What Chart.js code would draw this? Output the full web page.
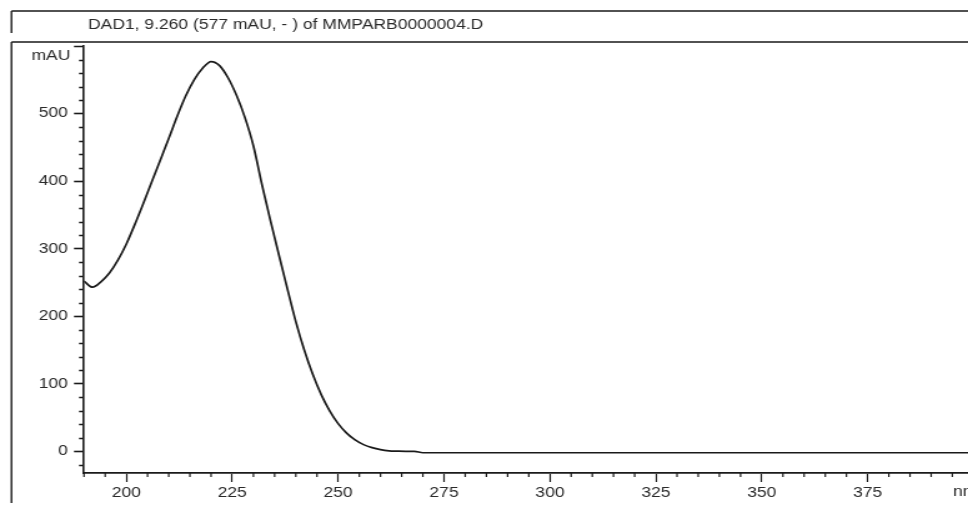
<!DOCTYPE html>
<html>
<head>
<meta charset="utf-8">
<title>DAD1 spectrum</title>
<script src="https://cdn.jsdelivr.net/npm/chart.js@4.4.1/dist/chart.umd.min.js"></script>
<style>
  html, body { margin: 0; padding: 0; background: #fff; overflow: hidden; }
  /* the instrument printout is wider than it is tall, so the canvas is stretched sideways */
  #wrap { width: 775px; height: 508px; transform: scaleX(1.24903); transform-origin: 0 0; }
  canvas { display: block; }
</style>
</head>
<body>
<div id="wrap"><canvas id="spectrum" width="775" height="508"></canvas></div>
<script>
// UV spectrum at 9.260 min
const wavelength = [190, 192, 194, 196, 198, 200, 202, 204, 206, 208,
                    210, 212, 214, 216, 218, 220, 222, 224, 226, 228,
                    230, 232, 234, 236, 238, 240, 242, 244, 246, 248,
                    250, 252, 254, 256, 258, 260, 262, 264, 266, 268,
                    270, 300, 350, 400];
const absorbance = [252, 243, 251, 264, 283, 307, 336, 367, 399, 431,
                    463, 496, 526, 550, 567, 577, 571, 553, 527, 494,
                    452, 395, 342, 291, 241, 192, 150, 114, 84, 60,
                    41, 27, 17, 10, 5.5, 2.5, 0.8, 0.3, 0, 0,
                    -2, -2, -2, -2];

const xTicks = [200, 225, 250, 275, 300, 325, 350, 375];
const yTicks = [0, 100, 200, 300, 400, 500];

const titleText = "DAD1, 9.260 (577 mAU, - ) of MMPARB0000004.D";
const yUnit = "mAU";
const xUnit = "nm";

const FONT = { family: "'Liberation Sans', Arial, sans-serif", size: 14 };
const INK = "#1a1a1a";
const TEXT = "#2a2a2a";

// frame boxes, title, minor ticks and unit labels
const framePlugin = {
  id: "frame",
  afterDraw(chart) {
    const ctx = chart.ctx;
    const xs = chart.scales.x;
    const ys = chart.scales.y;
    const area = chart.chartArea;
    const W = chart.width;

    ctx.save();
    ctx.strokeStyle = INK;
    ctx.lineWidth = 1.4;
    ctx.beginPath();
    // title box
    ctx.moveTo(9.2, 11); ctx.lineTo(W, 11);
    ctx.moveTo(9.2, 11); ctx.lineTo(9.2, 33);
    // plot box
    ctx.moveTo(9.2, 42); ctx.lineTo(W, 42);
    ctx.moveTo(9.2, 42); ctx.lineTo(9.2, 503);
    ctx.stroke();

    ctx.fillStyle = TEXT;
    ctx.font = FONT.size + "px " + FONT.family;
    ctx.textAlign = "left";
    ctx.textBaseline = "alphabetic";
    ctx.fillText(titleText, 70.5, 28.5);

    // minor ticks on y
    ctx.lineWidth = 1.6;
    ctx.beginPath();
    for (let v = -20; v <= 600; v += 20) {
      if (v % 100 === 0 && v !== 600) continue;
      const py = Math.round(ys.getPixelForValue(v)) + 0.5;
      const len = v === 600 ? 8 : 4;
      ctx.moveTo(area.left - len, py);
      ctx.lineTo(area.left - 1, py);
    }
    ctx.stroke();

    // minor ticks on x
    ctx.lineWidth = 1.2;
    ctx.beginPath();
    for (let v = 190; v <= xs.max; v += 5) {
      if (v % 25 === 0) continue;
      const px = xs.getPixelForValue(v);
      ctx.moveTo(px, area.bottom);
      ctx.lineTo(px, area.bottom + 4);
    }
    ctx.stroke();

    ctx.textAlign = "right";
    ctx.fillText(yUnit, area.left - 11, 60);
    ctx.textAlign = "left";
    ctx.textBaseline = "top";
    ctx.fillText(xUnit, 763, area.bottom + 12);
    ctx.restore();
  }
};

new Chart(document.getElementById("spectrum"), {
  type: "line",
  data: {
    datasets: [{
      data: wavelength.map((w, i) => ({ x: w, y: absorbance[i] })),
      borderColor: INK,
      borderWidth: 1.7,
      pointRadius: 0,
      cubicInterpolationMode: "monotone",
      fill: false
    }]
  },
  options: {
    responsive: false,
    devicePixelRatio: 1,
    animation: false,
    layout: { padding: { top: 46, right: 0, bottom: 0, left: 0 } },
    plugins: {
      legend: { display: false },
      tooltip: { enabled: false }
    },
    scales: {
      x: {
        type: "linear",
        min: 190,
        max: 398.7,
        afterBuildTicks: s => { s.ticks = xTicks.map(v => ({ value: v })); },
        afterFit: s => { s.height = 35; },
        grid: { drawOnChartArea: false, drawTicks: true, tickLength: 9, tickWidth: 1.2, tickColor: INK },
        border: { display: true, color: INK, width: 1.8 },
        ticks: { color: TEXT, font: FONT, padding: 3, maxRotation: 0, autoSkip: false }
      },
      y: {
        type: "linear",
        min: -32,
        max: 600,
        afterBuildTicks: s => { s.ticks = yTicks.map(v => ({ value: v })); },
        afterFit: s => { s.width = 67.25; },
        grid: { drawOnChartArea: false, drawTicks: true, tickLength: 8, tickWidth: 1.6, tickColor: INK },
        border: { display: true, color: INK, width: 1.6 },
        ticks: { color: TEXT, font: FONT, padding: 5 }
      }
    }
  },
  plugins: [framePlugin]
});
</script>
</body>
</html>
